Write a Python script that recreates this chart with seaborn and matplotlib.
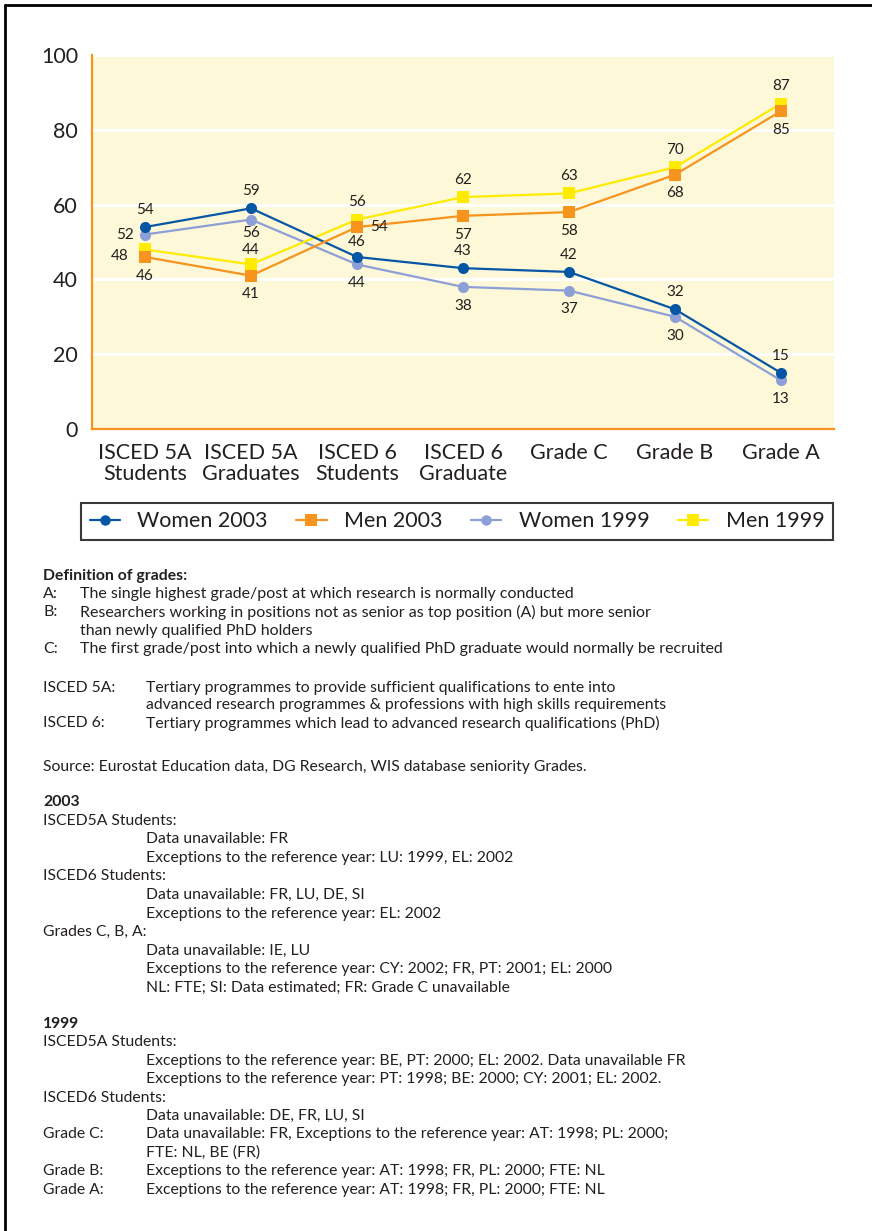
import numpy as np
import pandas as pd
import matplotlib
matplotlib.use("Agg")
import matplotlib.pyplot as plt
from matplotlib.lines import Line2D
import seaborn as sns

# ---------------------------------------------------------------- data
categories = ["ISCED 5A\nStudents", "ISCED 5A\nGraduates", "ISCED 6\nStudents",
              "ISCED 6\nGraduate", "Grade C", "Grade B", "Grade A"]
women_2003 = [54, 59, 46, 43, 42, 32, 15]
men_2003 = [46, 41, 54, 57, 58, 68, 85]
women_1999 = [52, 56, 44, 38, 37, 30, 13]
men_1999 = [48, 44, 56, 62, 63, 70, 87]
y_ticks = [0, 20, 40, 60, 80, 100]

series = {
    "Women 2003": women_2003,
    "Men 2003": men_2003,
    "Women 1999": women_1999,
    "Men 1999": men_1999,
}
legend_order = ["Women 2003", "Men 2003", "Women 1999", "Men 1999"]
draw_order = ["Women 1999", "Men 1999", "Women 2003", "Men 2003"]

# ---------------------------------------------------------------- styles
colors = {
    "Women 2003": "#0656A6",
    "Men 2003": "#F7941E",
    "Women 1999": "#8C9FD6",
    "Men 1999": "#FFEB00",
}
markers = {"Women 2003": "o", "Men 2003": "s", "Women 1999": "o", "Men 1999": "s"}
label_side = {
    "Women 2003": ["t", "t", "ts", "t", "t", "t", "t"],
    "Men 2003": ["b", "b", "r", "b", "b", "b", "b"],
    "Women 1999": ["l", "bs", "b", "b", "b", "b", "b"],
    "Men 1999": ["bl", "ts", "t", "t", "t", "t", "t"],
}
side_offsets = {"t": (0, 12.5), "b": (0, -13.5), "ts": (0, 10.5), "bs": (0, -10),
                "l": (-14.5, 0), "r": (16, 0), "bl": (-18, -5)}

INK = "#231F20"
ORANGE = "#F7941E"
PANEL = "#FDF8D7"

definitions = [
    ("A:", "The single highest grade/post at which research is normally conducted"),
    ("B:", "Researchers working in positions not as senior as top position (A) but more senior"),
    ("", "than newly qualified PhD holders"),
    ("C:", "The first grade/post into which a newly qualified PhD graduate would normally be recruited"),
]
isced_notes = [
    ("ISCED 5A:", "Tertiary programmes to provide sufficient qualifications to ente into"),
    ("", "advanced research programmes & professions with high skills requirements"),
    ("ISCED 6:", "Tertiary programmes which lead to advanced research qualifications (PhD)"),
]
source_note = "Source: Eurostat Education data, DG Research, WIS database seniority Grades."
notes_2003 = [
    ("ISCED5A Students:", ""),
    ("", "Data unavailable: FR"),
    ("", "Exceptions to the reference year: LU: 1999, EL: 2002"),
    ("ISCED6 Students:", ""),
    ("", "Data unavailable: FR, LU, DE, SI"),
    ("", "Exceptions to the reference year: EL: 2002"),
    ("Grades C, B, A:", ""),
    ("", "Data unavailable: IE, LU"),
    ("", "Exceptions to the reference year: CY: 2002; FR, PT: 2001; EL: 2000"),
    ("", "NL: FTE; SI: Data estimated; FR: Grade C unavailable"),
]
notes_1999 = [
    ("ISCED5A Students:", ""),
    ("", "Exceptions to the reference year: BE, PT: 2000; EL: 2002. Data unavailable FR"),
    ("", "Exceptions to the reference year: PT: 1998; BE: 2000; CY: 2001; EL: 2002."),
    ("ISCED6 Students:", ""),
    ("", "Data unavailable: DE, FR, LU, SI"),
    ("Grade C:", "Data unavailable: FR, Exceptions to the reference year: AT: 1998; PL: 2000;"),
    ("", "FTE: NL, BE (FR)"),
    ("Grade B:", "Exceptions to the reference year: AT: 1998; FR, PL: 2000; FTE: NL"),
    ("Grade A:", "Exceptions to the reference year: AT: 1998; FR, PL: 2000; FTE: NL"),
]

# ---------------------------------------------------------------- figure
sns.set_style("white")
plt.rcParams["font.family"] = ["Lato", "DejaVu Sans"]
plt.rcParams["text.color"] = INK

W, H = 872, 1231
fig = plt.figure(figsize=(W / 100, H / 100), dpi=100)
fig.patch.set_facecolor("white")
ax = fig.add_axes([92 / W, 1 - 429 / H, 742 / W, 374 / H])
ax.set_facecolor(PANEL)

rows = []
for name, vals in series.items():
    for i, v in enumerate(vals):
        rows.append({"pos": i, "value": v, "series": name})
df = pd.DataFrame(rows)

handles = {}
for name in draw_order:
    sub = df[df["series"] == name]
    sns.lineplot(data=sub, x="pos", y="value", ax=ax, color=colors[name],
                 marker=markers[name], markersize=8.5 if markers[name] == "s" else 8,
                 markeredgewidth=0, linewidth=1.6, label=name, legend=False,
                 zorder=3)
    handles[name] = Line2D([], [], color=colors[name], marker=markers[name],
                           markersize=8.5 if markers[name] == "s" else 7.5,
                           markeredgewidth=0, linewidth=1.6)

for name in draw_order:
    for i, v in enumerate(series[name]):
        dx, dy = side_offsets[label_side[name][i]]
        ax.annotate(f"{v}", xy=(i, v), xytext=(dx, dy), textcoords="offset points",
                    ha="center", va="center", fontsize=11, color=INK, zorder=5)

# axes styling
ax.set_xlim(-0.5, len(categories) - 0.5)
ax.set_ylim(0, 100)
ax.set_yticks(y_ticks)
ax.set_yticklabels([str(t) for t in y_ticks], fontsize=15.5, color=INK)
ax.set_xticks(range(len(categories)))
ax.set_xticklabels(categories, fontsize=15.5, color=INK, linespacing=1.05)
ax.set_xticks(np.arange(0.5, len(categories)), minor=True)
ax.tick_params(axis="x", which="major", length=0, pad=10)
ax.tick_params(axis="x", which="minor", length=3.5, width=1.5, direction="in",
               color=ORANGE)
ax.tick_params(axis="y", length=0, pad=10)
ax.set_xlabel("")
ax.set_ylabel("")
ax.yaxis.grid(True, color="white", linewidth=2.3)
ax.xaxis.grid(False)
ax.set_axisbelow(True)
for side in ("top", "right"):
    ax.spines[side].set_visible(False)
for side in ("left", "bottom"):
    ax.spines[side].set_color(ORANGE)
    ax.spines[side].set_linewidth(1.6)

leg = fig.legend([handles[n] for n in legend_order], legend_order,
                 loc="lower left", bbox_to_anchor=(81 / W, 1 - 540 / H, 752 / W, 38 / H),
                 mode="expand", ncol=4, fontsize=15.5, frameon=True, fancybox=False,
                 edgecolor="#3A3A3A", borderpad=0.4, handlelength=1.4,
                 handletextpad=0.8, columnspacing=1.4, borderaxespad=0)
leg.get_frame().set_linewidth(1.5)
leg.get_frame().set_facecolor("white")
leg.get_frame().set_alpha(1)

# page frame (top and left rules)
fig.add_artist(Line2D([5 / W, 1], [1 - 5 / H, 1 - 5 / H], color="black",
                      linewidth=2, transform=fig.transFigure))
fig.add_artist(Line2D([5 / W, 5 / W], [0, 1 - 5 / H], color="black",
                      linewidth=2, transform=fig.transFigure))


def put(x, y, s, size=11.5, weight="normal"):
    fig.text(x / W, 1 - y / H, s, ha="left", va="center", fontsize=size,
             fontweight=weight, color=INK)


NOTE = 11.3

# notes below the chart
put(43, 576, "Definition of grades:", weight="bold", size=11.3)
for k, (lab, txt) in enumerate(definitions):
    y = 594 + 18.3 * k
    put(43, y, lab)
    put(80, y, txt)

for k, (lab, txt) in enumerate(isced_notes):
    y = 688 + 17.5 * k
    put(43, y, lab, size=NOTE)
    put(146, y, txt, size=NOTE)

put(43, 767, source_note, size=NOTE)

put(43, 802, "2003", weight="bold", size=NOTE)
for k, (lab, txt) in enumerate(notes_2003):
    y = 820.6 + 18.6 * k
    if lab:
        put(43, y, lab, size=NOTE)
    if txt:
        put(146, y, txt, size=NOTE)

put(43, 1024, "1999", weight="bold", size=NOTE)
for k, (lab, txt) in enumerate(notes_1999):
    y = 1042.4 + 18.4 * k
    if lab:
        put(43, y, lab, size=NOTE)
    if txt:
        put(146, y, txt, size=NOTE)

fig.savefig("out.png", dpi=100, facecolor="white")
